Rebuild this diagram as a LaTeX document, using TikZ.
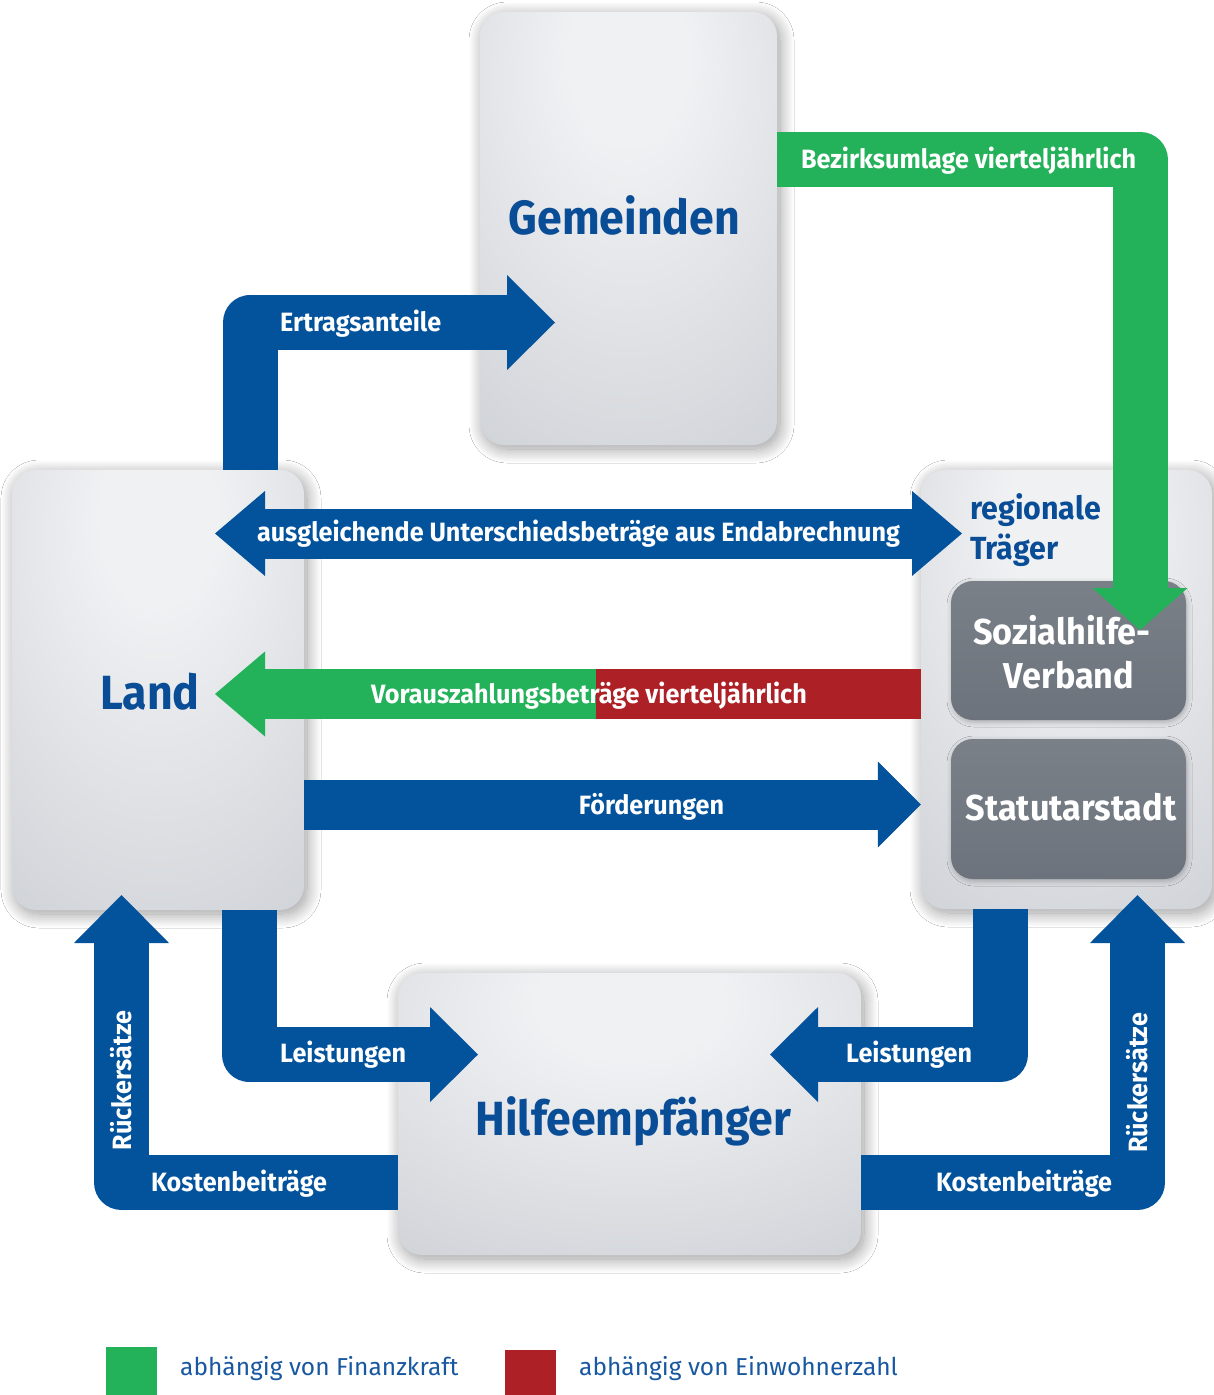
\documentclass[tikz,border=0pt]{standalone}
\usepackage{fontspec}
\setmainfont{Fira Sans}[FakeStretch=0.95]
\newfontfamily\titlefont{Fira Sans}[FakeStretch=0.93]
\newfontfamily\legfont{Fira Sans}[FakeStretch=1.0]
\usetikzlibrary{arrows.meta,shadows.blur}
\definecolor{arrowblue}{RGB}{3,82,156}
\definecolor{titleblue}{RGB}{10,77,151}
\definecolor{legblue}{RGB}{24,88,160}
\definecolor{fgreen}{RGB}{35,177,90}
\definecolor{fred}{RGB}{173,32,38}
\definecolor{boxlight}{RGB}{240,241,243}
\definecolor{boxmid}{RGB}{208,211,216}
\definecolor{boxdark}{RGB}{166,171,179}
\definecolor{innertop}{RGB}{121,128,136}
\definecolor{innerbot}{RGB}{108,115,124}
\pgfdeclareradialshading{lightshade}{\pgfpoint{0bp}{22bp}}{color(0bp)=(boxlight); color(10bp)=(boxlight); color(45bp)=(boxmid); color(80bp)=(boxdark); color(100bp)=(boxdark)}
\begin{document}
\begin{tikzpicture}[x=1pt,y=-1pt,
  graybox/.style={shape=rectangle, rounded corners=24pt, shading=lightshade, inner sep=0pt,
    blur shadow={shadow xshift=3pt, shadow yshift=-4pt, shadow blur radius=14pt, shadow blur steps=20, shadow opacity=40}},
  darkbox/.style={shape=rectangle, rounded corners=22pt, top color=innertop, bottom color=innerbot, inner sep=0pt,
    blur shadow={shadow xshift=1pt, shadow yshift=-2pt, shadow blur radius=5pt, shadow opacity=25}},
  fatline/.style={line width=55pt, line join=round},
  midline/.style={line width=50pt},
  lbl/.style={text=white, font=\bfseries\fontsize{26.5}{30}\selectfont, inner sep=0pt},
  ttl/.style={text=titleblue, font=\titlefont\bfseries\fontsize{48}{52}\selectfont, inner sep=0pt},
  subttl/.style={text=titleblue, font=\bfseries\fontsize{32}{36}\selectfont, inner sep=0pt},
  darktxt/.style={text=white, font=\bfseries\fontsize{36}{40}\selectfont, inner sep=0pt},
  legtxt/.style={text=legblue, font=\legfont\fontsize{24.5}{28}\selectfont, inner sep=0pt}
]
\useasboundingbox (0,0) rectangle (1214,1395);
\fill[white] (0,0) rectangle (1214,1395);

% boxes
\node[graybox, minimum width=297pt, minimum height=433pt] (gem) at (628.5,228.5) {};
\node[graybox, minimum width=292pt, minimum height=440pt] (land) at (158,690) {};
\node[graybox, minimum width=291pt, minimum height=439pt] (reg) at (1066.5,689.5) {};
\node[graybox, minimum width=463pt, minimum height=282pt] (hilfe) at (629.5,1114) {};
\node[darkbox, minimum width=235pt, minimum height=139pt] (soz) at (1068.5,650.5) {};
\node[darkbox, minimum width=235pt, minimum height=140pt] (stat) at (1068.5,809) {};

% helper coordinates
\coordinate (ertX) at (250,0);
\coordinate (ertTip) at (555,322.5);
\coordinate (bezY) at (0,159.5);
\coordinate (bezTip) at (1140,630);
\coordinate (ausL) at (215,533.5);
\coordinate (ausR) at (962,533.5);
\coordinate (vzSplit) at (596,694);
\coordinate (vzTip) at (215,694);
\coordinate (foeY) at (0,804.5);
\coordinate (leiLX) at (249,0);
\coordinate (leiLTip) at (478,1054.5);
\coordinate (leiRX) at (1000.5,0);
\coordinate (leiRTip) at (770,1054.5);
\coordinate (rueY) at (0,1182.5);
\coordinate (rueLTip) at (121.5,895);
\coordinate (rueRTip) at (1137.5,895);

% blue arrows
\draw[fatline, draw=arrowblue, -{Triangle[length=48pt,width=95pt,line width=0pt]}] (land.north -| ertX) |- (ertTip);
\draw[midline, draw=arrowblue, {Triangle[length=50pt,width=85pt,line width=0pt]}-{Triangle[length=50pt,width=85pt,line width=0pt]}] (ausL) -- (ausR);
\draw[midline, draw=fred] (reg.west |- vzSplit) -- (vzSplit);
\draw[midline, draw=fgreen, -{Triangle[length=50pt,width=85pt,line width=0pt]}] (vzSplit) -- (vzTip);
\draw[midline, draw=arrowblue, -{Triangle[length=43pt,width=86pt,line width=0pt]}] (land.east |- foeY) -- (reg.west |- foeY);
\draw[fatline, draw=arrowblue, -{Triangle[length=48pt,width=95pt,line width=0pt]}] (land.south -| leiLX) |- (leiLTip);
\draw[fatline, draw=arrowblue, -{Triangle[length=48pt,width=95pt,line width=0pt]}] (reg.south -| leiRX) |- (leiRTip);
\draw[fatline, draw=arrowblue, -{Triangle[length=48pt,width=95pt,line width=0pt]}] (hilfe.west |- rueY) -| (rueLTip);
\draw[fatline, draw=arrowblue, -{Triangle[length=48pt,width=95pt,line width=0pt]}] (hilfe.east |- rueY) -| (rueRTip);
% green Bezirksumlage
\draw[fatline, draw=fgreen, -{Triangle[length=42pt,width=95pt,line width=0pt]}] (gem.east |- bezY) -| (bezTip);

% titles
\node[ttl, anchor=base] (tGem) at (624.5,234) {Gemeinden};
\node[ttl, anchor=base] (tLand) at (150,709) {Land};
\node[ttl, anchor=base] (tHilfe) at (633.5,1135) {Hilfeempfänger};
\node[subttl, anchor=base west] (tReg1) at (970,519) {regionale};
\node[subttl, anchor=base west] (tReg2) at (970,559) {Träger};
\node[darktxt, anchor=base] (tSoz1) at (1062,644) {Sozialhilfe-};
\node[darktxt, anchor=base] (tSoz2) at (1069,688) {Verband};
\node[darktxt, anchor=base] (tStat) at (1071,820) {Statutarstadt};

% arrow labels
\node[lbl, anchor=base west] (lErtrag) at (280,331) {Ertragsanteile};
\node[lbl, anchor=base west] (lBez) at (801,168) {Bezirksumlage vierteljährlich};
\node[lbl, anchor=base] (lAus) at (578.5,541) {ausgleichende Unterschiedsbeträge aus Endabrechnung};
\node[lbl, anchor=base] (lVz) at (589,703) {Vorauszahlungsbeträge vierteljährlich};
\node[lbl, anchor=base] (lFoe) at (651.5,814) {Förderungen};
\node[lbl, anchor=base west] (lLeiL) at (280,1062) {Leistungen};
\node[lbl, anchor=base west] (lLeiR) at (846,1062) {Leistungen};
\node[lbl, anchor=base west] (lKosL) at (151,1191) {Kostenbeiträge};
\node[lbl, anchor=base west] (lKosR) at (936,1191) {Kostenbeiträge};
\node[lbl, anchor=base, rotate=90] (lRueL) at (131,1080.5) {Rückersätze};
\node[lbl, anchor=base, rotate=90] (lRueR) at (1147,1083) {Rückersätze};

% legend
\node[fill=fgreen, minimum width=51pt, minimum height=48pt, inner sep=0pt] (legG) at (131.5,1371) {};
\node[legtxt, anchor=base west] (legGt) at (180,1375) {abhängig von Finanzkraft};
\node[fill=fred, minimum width=51pt, minimum height=45pt, inner sep=0pt] (legR) at (530.5,1372.5) {};
\node[legtxt, anchor=base west] (legRt) at (579,1375) {abhängig von Einwohnerzahl};
\end{tikzpicture}
\end{document}
